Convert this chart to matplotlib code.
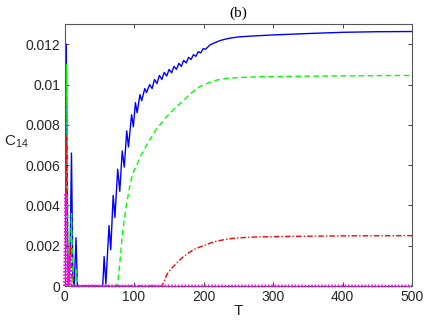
import numpy as np
import matplotlib
matplotlib.use("Agg")
import matplotlib.pyplot as plt

plt.rcParams['font.family'] = ['Liberation Sans', 'DejaVu Sans']
plt.rcParams['mathtext.fontset'] = 'custom'
plt.rcParams['mathtext.rm'] = 'Liberation Sans'
plt.rcParams['mathtext.it'] = 'Liberation Sans'

# blue (solid)
t_blue = [0, 1, 2.5, 4.5, 6, 8, 10, 12, 14, 16.5, 18.5, 20, 55,
          57, 59.5, 64, 66.5, 70, 72.5, 76.5, 79.5, 83, 86, 89.5, 92, 96.5, 99,
          102, 104.5, 108.5, 111, 115.5, 118, 122.5, 126, 129.5, 133, 136.5, 140,
          143.5, 147, 150.5, 154, 157.5, 161, 164.5, 168, 171.5, 175, 178.5, 182,
          185.5, 189, 192.5, 196, 199.5, 203, 209, 216, 223, 230, 238, 250, 267,
          300, 350, 400, 450, 500]
c_blue = [0, 0.006, 0.012, 0.002, 0, 0.0015, 0.0066, 0.0005, 0, 0.0024, 0, 0, 0,
          0.00146, 0.0001, 0.0030, 0.0018, 0.0045, 0.0034, 0.0058, 0.0047, 0.0067,
          0.0059, 0.0077, 0.0069, 0.0085, 0.0079, 0.0091, 0.0086, 0.0095, 0.0092,
          0.0098, 0.0096, 0.0100, 0.0098, 0.01025, 0.01005, 0.01045, 0.01025,
          0.0106, 0.01042, 0.01075, 0.01058, 0.0109, 0.01075, 0.01105, 0.0109,
          0.0112, 0.01107, 0.01135, 0.01124, 0.01148, 0.0114, 0.01163, 0.01157,
          0.01178, 0.01175, 0.01196, 0.01207, 0.01217, 0.01224, 0.0123, 0.01236,
          0.0124, 0.01246, 0.01253, 0.01259, 0.01262, 0.01263]

# green (dashed)
t_green = [0, 1, 3, 5.5, 8, 10, 12, 15, 17, 19, 75, 77, 79.5, 82, 84, 86.5, 89,
           91, 93.5, 96, 98.5, 101, 105, 110, 115, 120, 126, 132.5, 142, 152, 161,
           171, 183, 195, 207, 219, 232, 248, 281, 340, 400, 500]
c_green = [0, 0.005, 0.0110, 0, 0.0008, 0.0036, 0, 0, 0.0008, 0, 0, 0.0003, 0.0011,
           0.0021, 0.0028, 0.0034, 0.0040, 0.0044, 0.0049, 0.0053, 0.0056, 0.0058,
           0.0061, 0.00648, 0.0068, 0.0071, 0.00745, 0.0078, 0.0082, 0.0086,
           0.0089, 0.0092, 0.0096, 0.0099, 0.01008, 0.01022, 0.0103, 0.01034,
           0.01039, 0.01041, 0.01043, 0.01045]

# red (dash-dot)
t_red = [0, 1, 2.5, 5, 7, 9, 11, 140, 143, 147, 152, 157, 164, 171, 178, 185,
         192, 200, 210, 219, 230, 243, 260, 281, 320, 400, 500]
c_red = [0, 0.004, 0.0074, 0, 0.0008, 0.002, 0, 0, 0.0002, 0.00055, 0.0008,
         0.00098, 0.00123, 0.00145, 0.00163, 0.00179, 0.0019, 0.002, 0.00213,
         0.00223, 0.0023, 0.00237, 0.00241, 0.00244, 0.00246, 0.00249, 0.0025]

# magenta (dotted)
t_mag = [0, 1, 2, 4.5, 6, 7, 8.5, 500]
c_mag = [0, 0.0025, 0.0046, 0, 0.0006, 0.0015, 0, 0]

fig = plt.figure(figsize=(4.36, 3.23), dpi=100)
ax = fig.add_axes([0.148, 0.1145, 0.797, 0.811])

ax.plot(t_blue, c_blue, color='#0000ff', lw=1.0, ls='-')
ax.plot(t_green, c_green, color='#00ff00', lw=1.0, ls=(0, (4, 2.5)))
ax.plot(t_red, c_red, color='#ff0000', lw=1.0, ls=(0, (4, 1.5, 1, 1.5)))
ax.plot(t_mag, c_mag, color='#ff00ff', lw=2.0, ls=(0, (0.6, 0.6)),
        zorder=3, clip_on=False)

ax.set_xlim(0, 500)
ax.set_ylim(0, 0.013)
ax.set_xticks([0, 100, 200, 300, 400, 500])
ax.set_yticks([0, 0.002, 0.004, 0.006, 0.008, 0.01, 0.012])
ax.set_yticklabels(['0', '0.002', '0.004', '0.006', '0.008', '0.01', '0.012'])
ax.tick_params(direction='in', top=True, right=True, length=3, width=0.6,
               colors='#262626', labelsize=10, pad=3)
for s in ax.spines.values():
    s.set_color('#555555')
    s.set_linewidth(0.8)

ax.set_xlabel('T', fontsize=11, labelpad=0, color='#262626')
ax.set_ylabel('C$_{14}$', fontsize=11, rotation=0, color='#262626')
ax.yaxis.set_label_coords(-0.14, 0.52)
ax.set_title('(b)', fontsize=11, family=['Liberation Serif', 'DejaVu Serif'], pad=5)

fig.savefig('out.png', dpi=100)
